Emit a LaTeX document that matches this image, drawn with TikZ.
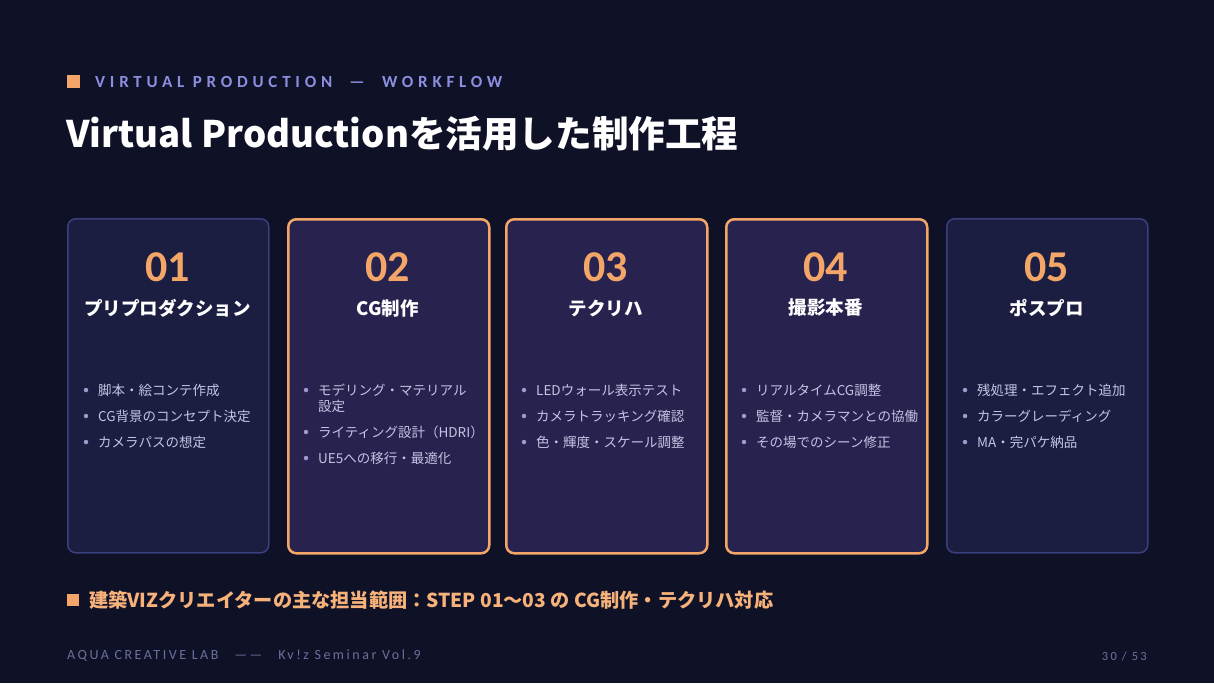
\documentclass[tikz,border=0pt]{standalone}
\usepackage{fontspec}
\setmainfont{Noto Sans CJK JP}
\newfontfamily\jp{Noto Sans CJK JP}
\newfontfamily\lat{Carlito}
\newfontfamily\hdr[LetterSpace=28]{Carlito}
\newfontfamily\ftr[LetterSpace=18]{Carlito}
\definecolor{bg}{HTML}{0F1127}
\definecolor{cardblue}{HTML}{1B1E40}
\definecolor{borderblue}{HTML}{3A3F7E}
\definecolor{cardpurple}{HTML}{27224E}
\definecolor{accent}{HTML}{F4A568}
\definecolor{lav}{HTML}{8C8FE0}
\definecolor{itemcol}{HTML}{C4C4E4}
\definecolor{dotcol}{HTML}{9C9CD0}
\definecolor{footcol}{HTML}{6B6F9C}
\definecolor{note}{HTML}{F6B27A}
\begin{document}
\begin{tikzpicture}[x=1pt,y=-1pt,
  card/.style={rounded corners=8pt, minimum width=201pt, minimum height=334pt, anchor=north west, inner sep=0pt},
  bluecard/.style={card, fill=cardblue, draw=borderblue, line width=1.5pt},
  hotcard/.style={card, fill=cardpurple, draw=accent, line width=2.5pt},
  num/.style={text=accent, font=\lat\bfseries\fontsize{44}{44}\selectfont, inner sep=0pt},
  ttl/.style={text=white, font=\jp\bfseries\fontsize{18.5}{18.5}\selectfont, inner sep=0pt},
  bdot/.style={circle, fill=dotcol, inner sep=0pt, minimum size=4.5pt},
  item/.style={text=itemcol, font=\jp\fontsize{13.5}{16}\selectfont, anchor=west, inner sep=0pt},
  sq/.style={fill=accent, inner sep=0pt},
]
\useasboundingbox[fill=bg] (0,0) rectangle (1214,683);

% header
\node[sq, minimum size=13pt] (hsq) at (73.5,81.5) {};
\node[anchor=west, inner sep=0pt, text=lav, font=\hdr\bfseries\fontsize{17}{17}\selectfont] (htext) at (95,81.5) {VIRTUAL PRODUCTION\ \ —\ \ WORKFLOW};
\node[anchor=west, inner sep=0pt, text=white, font=\jp\bfseries\fontsize{36.6}{36.6}\selectfont] (title) at (66,134) {Virtual Productionを活用した制作工程};

% cards
\foreach \i/\x/\st/\t in {1/67/bluecard/プリプロダクション, 2/287/hotcard/CG制作, 3/505/hotcard/テクリハ, 4/725/hotcard/撮影本番, 5/946/bluecard/ポスプロ}{
  \node[\st] (card\i) at (\x,218) {};
  \node[num] (num\i) at (\x+100.5,267) {0\i};
  \node[ttl] (ttl\i) at (\x+100.5,308) {\t};
}

\newcommand\bitem[4]{%
  \node[bdot] (#1d) at (#2+19,#3) {};
  \node[item] (#1) at (#2+31,#3) {#4};}

% card 1
\bitem{a1}{67}{390}{脚本・絵コンテ作成}
\bitem{a2}{67}{416}{CG背景のコンセプト決定}
\bitem{a3}{67}{442}{カメラパスの想定}
% card 2
\bitem{b1}{287}{390}{モデリング・マテリアル}
\node[item] (b1b) at (287+31,406) {設定};
\bitem{b2}{287}{432}{ライティング設計（HDRI）}
\bitem{b3}{287}{458}{UE5への移行・最適化}
% card 3
\bitem{c1}{505}{390}{LEDウォール表示テスト}
\bitem{c2}{505}{416}{カメラトラッキング確認}
\bitem{c3}{505}{442}{色・輝度・スケール調整}
% card 4
\bitem{d1}{725}{390}{リアルタイムCG調整}
\bitem{d2}{725}{416}{監督・カメラマンとの協働}
\bitem{d3}{725}{442}{その場でのシーン修正}
% card 5
\bitem{e1}{946}{390}{残処理・エフェクト追加}
\bitem{e2}{946}{416}{カラーグレーディング}
\bitem{e3}{946}{442}{MA・完パケ納品}

% bottom note
\node[sq, minimum size=12pt] (nsq) at (72.5,600) {};
\node[anchor=west, inner sep=0pt, text=note, font=\jp\bfseries\fontsize{19.2}{19.2}\selectfont] (ntext) at (89,600) {建築VIZクリエイターの主な担当範囲：STEP 01〜03 の CG制作・テクリハ対応};

% footer
\node[anchor=west, inner sep=0pt, text=footcol, font=\ftr\fontsize{14}{14}\selectfont] (foot) at (67,656) {AQUA CREATIVE LAB\hspace{16pt}——\hspace{16pt}Kv!z Seminar Vol.9};
\node[anchor=east, inner sep=0pt, text=footcol, font=\ftr\fontsize{12.5}{12.5}\selectfont] (page) at (1147,656) {30 / 53};
\end{tikzpicture}
\end{document}
